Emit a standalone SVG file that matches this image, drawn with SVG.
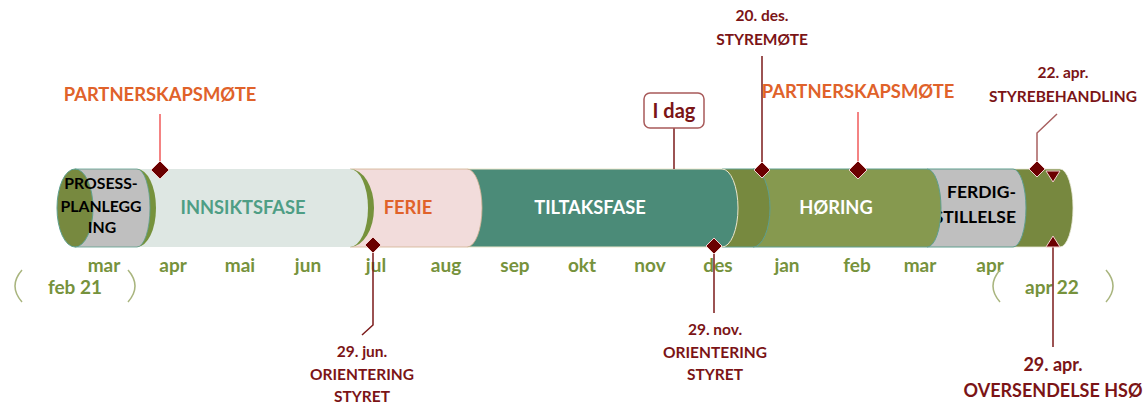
<svg xmlns="http://www.w3.org/2000/svg" width="1148" height="403" viewBox="0 0 1148 403">
  <style>
    text { font-family: "Lato", "Liberation Sans", sans-serif; font-weight: bold; }
    .mon { fill: #76923C; font-size: 19px; text-anchor: middle; }
    .yr { fill: #76923C; font-size: 19px; text-anchor: middle; }
    .brk { fill: none; stroke: #A9B57E; stroke-width: 1.5; }
    .ev { fill: #7B1416; font-size: 15.5px; text-anchor: middle; }
    .evl { fill: #7B1416; font-size: 18px; text-anchor: middle; }
    .pm { fill: #E0622A; font-size: 18.4px; text-anchor: middle; }
    .dm { fill: #6B0000; stroke: #F2D0D0; stroke-width: 1; }
    .ln { fill: none; stroke: #7B1A1A; stroke-width: 1.5; }
    .lnr { fill: none; stroke: #F05A5A; stroke-width: 1.5; }
    .lnm { fill: none; stroke: #A86060; stroke-width: 1.5; }
    .seg { font-size: 18.3px; text-anchor: middle; }
    .blk { fill: #000000; font-size: 15.8px; text-anchor: middle; }
    .blk2 { fill: #000000; font-size: 17.5px; text-anchor: end; }
  </style>

  <!-- timeline bar, drawn from the right end towards the left so each segment's rounded end overlaps the next -->
  <g id="bar">
    <g id="seg-end">
      <path d="M1013 169 H1060 A13 39 0 0 1 1060 247 H1013 Z" fill="#77883F" stroke="#E8E8D8" stroke-width="0.8"/>
    </g>
    <g id="seg-ferdigstillelse">
      <path d="M927 169 H1013 A13 39 0 0 1 1013 247 H927 Z" fill="#BFBFBF" stroke="#5E9E8E" stroke-width="1"/>
      <text class="blk2" x="1016" y="198">FERDIG-</text>
      <text class="blk2" x="1016" y="223">STILLELSE</text>
    </g>
    <g id="seg-horing">
      <path d="M753 169 H927 A14 39 0 0 1 927 247 H753 Z" fill="#86994F" stroke="#5E9E8E" stroke-width="1"/>
      <text class="seg" x="836" y="214" fill="#FFFFFF">HØRING</text>
    </g>
    <g id="seg-olive">
      <path d="M722 169 H753 A17 39 0 0 1 753 247 H722 Z" fill="#77893F" stroke="#5E9E8E" stroke-width="1"/>
    </g>
    <g id="seg-tiltaksfase">
      <path d="M467 169 H722 A16 39 0 0 1 722 247 H467 Z" fill="#4B8B78" stroke="#ECE6CC" stroke-width="1"/>
      <text class="seg" x="590" y="214" fill="#FFFFFF">TILTAKSFASE</text>
    </g>
    <g id="seg-ferie">
      <path d="M350 169 H467 A15 39 0 0 1 467 247 H350 Z" fill="#F2DCDB" stroke="#D2B090" stroke-width="0.8"/>
      <text class="seg" x="408" y="214" fill="#E0622A">FERIE</text>
    </g>
    <g id="seg-innsiktsfase">
      <path d="M350 169 A24 39 0 0 1 350 247 Z" fill="#76923C"/>
      <path d="M137 169 H350 A18 39 0 0 1 350 247 H137 Z" fill="#DEE7E3"/>
      <text class="seg" x="243" y="214" fill="#4E9E85">INNSIKTSFASE</text>
    </g>
    <g id="seg-prosessplanlegging">
      <path d="M137 169 A19 39 0 0 1 137 247 Z" fill="#76923C"/>
      <path d="M75 169 H137 A13 39 0 0 1 137 247 H75 Z" fill="#BFBFBF" stroke="#5E9E8E" stroke-width="0.8"/>
      <ellipse cx="75" cy="208" rx="18" ry="39" fill="#77893F" stroke="#5EA08F" stroke-width="1"/>
      <text class="blk" x="101" y="189">PROSESS-</text>
      <text class="blk" x="101" y="212">PLANLEGG</text>
      <text class="blk" x="102" y="233">ING</text>
    </g>
  </g>

  <!-- month scale -->
  <g id="months">
    <text class="mon" x="104" y="272">mar</text>
    <text class="mon" x="173" y="272">apr</text>
    <text class="mon" x="240" y="272">mai</text>
    <text class="mon" x="308" y="272">jun</text>
    <text class="mon" x="376" y="272">jul</text>
    <text class="mon" x="446" y="272">aug</text>
    <text class="mon" x="515" y="272">sep</text>
    <text class="mon" x="582" y="272">okt</text>
    <text class="mon" x="650" y="272">nov</text>
    <text class="mon" x="718" y="272">des</text>
    <text class="mon" x="787" y="272">jan</text>
    <text class="mon" x="857" y="272">feb</text>
    <text class="mon" x="920" y="272">mar</text>
    <text class="mon" x="990" y="272">apr</text>
  </g>

  <g id="year-start">
    <path class="brk" d="M22 270 Q8 286 22 302"/>
    <path class="brk" d="M128 270 Q142 286 128 302"/>
    <text class="yr" x="75" y="294">feb 21</text>
  </g>
  <g id="year-end">
    <path class="brk" d="M1000 270 Q986 286 1000 302"/>
    <path class="brk" d="M1106 270 Q1120 286 1106 302"/>
    <text class="yr" x="1052" y="294">apr 22</text>
  </g>

  <!-- connectors from the event labels to the bar -->
  <g id="connectors">
    <line class="lnr" x1="160" y1="114" x2="160" y2="163"/>
    <path class="ln" d="M373 252 V325 L362 335"/>
    <line class="ln" x1="674" y1="128" x2="674" y2="169"/>
    <line class="ln" x1="714" y1="252" x2="714" y2="313"/>
    <line class="ln" x1="762" y1="56" x2="762" y2="163"/>
    <line class="lnr" x1="858" y1="112" x2="858" y2="163"/>
    <path class="lnm" d="M1057 114 L1037 133 V162"/>
    <line class="ln" x1="1053" y1="247" x2="1053" y2="347"/>
    <polygon class="dm" points="1046,171 1060,171 1053,182"/>
    <polygon class="dm" points="1046,247 1060,247 1053,236"/>
  </g>

  <!-- event markers and labels -->
  <g id="ev-partnerskap-1">
    <text class="pm" x="160" y="101">PARTNERSKAPSMØTE</text>
    <polygon class="dm" points="160,161 169,170 160,179 151,170"/>
  </g>
  <g id="ev-jun">
    <polygon class="dm" points="373,237 381,245 373,253 365,245"/>
    <text class="ev" x="362" y="357">29. jun.</text>
    <text class="ev" x="362" y="380">ORIENTERING</text>
    <text class="ev" x="362" y="402">STYRET</text>
  </g>
  <g id="ev-idag">
    <rect x="644" y="93" width="60" height="35" rx="6" fill="#FFFFFF" stroke="#A85A5A" stroke-width="1.5"/>
    <text x="674" y="118" fill="#7B1416" font-size="20" text-anchor="middle">I dag</text>
  </g>
  <g id="ev-nov">
    <polygon class="dm" points="714,238 722,246 714,254 706,246"/>
    <text class="ev" x="715" y="335">29. nov.</text>
    <text class="ev" x="715" y="358">ORIENTERING</text>
    <text class="ev" x="715" y="380">STYRET</text>
  </g>
  <g id="ev-des">
    <text class="ev" x="762" y="21">20. des.</text>
    <text class="ev" x="762" y="45">STYREMØTE</text>
    <polygon class="dm" points="762,162 770,170 762,178 754,170"/>
  </g>
  <g id="ev-partnerskap-2">
    <text class="pm" x="858" y="98">PARTNERSKAPSMØTE</text>
    <polygon class="dm" points="858,161 867,170 858,179 849,170"/>
  </g>
  <g id="ev-apr22">
    <text class="ev" x="1063" y="78">22. apr.</text>
    <text class="ev" x="1063" y="102">STYREBEHANDLING</text>
    <polygon class="dm" points="1037,161 1045,169 1037,177 1029,169"/>
  </g>
  <g id="ev-apr29">
    <text class="evl" x="1053" y="371">29. apr.</text>
    <text class="evl" x="1053" y="397">OVERSENDELSE HSØ</text>
  </g>
</svg>
